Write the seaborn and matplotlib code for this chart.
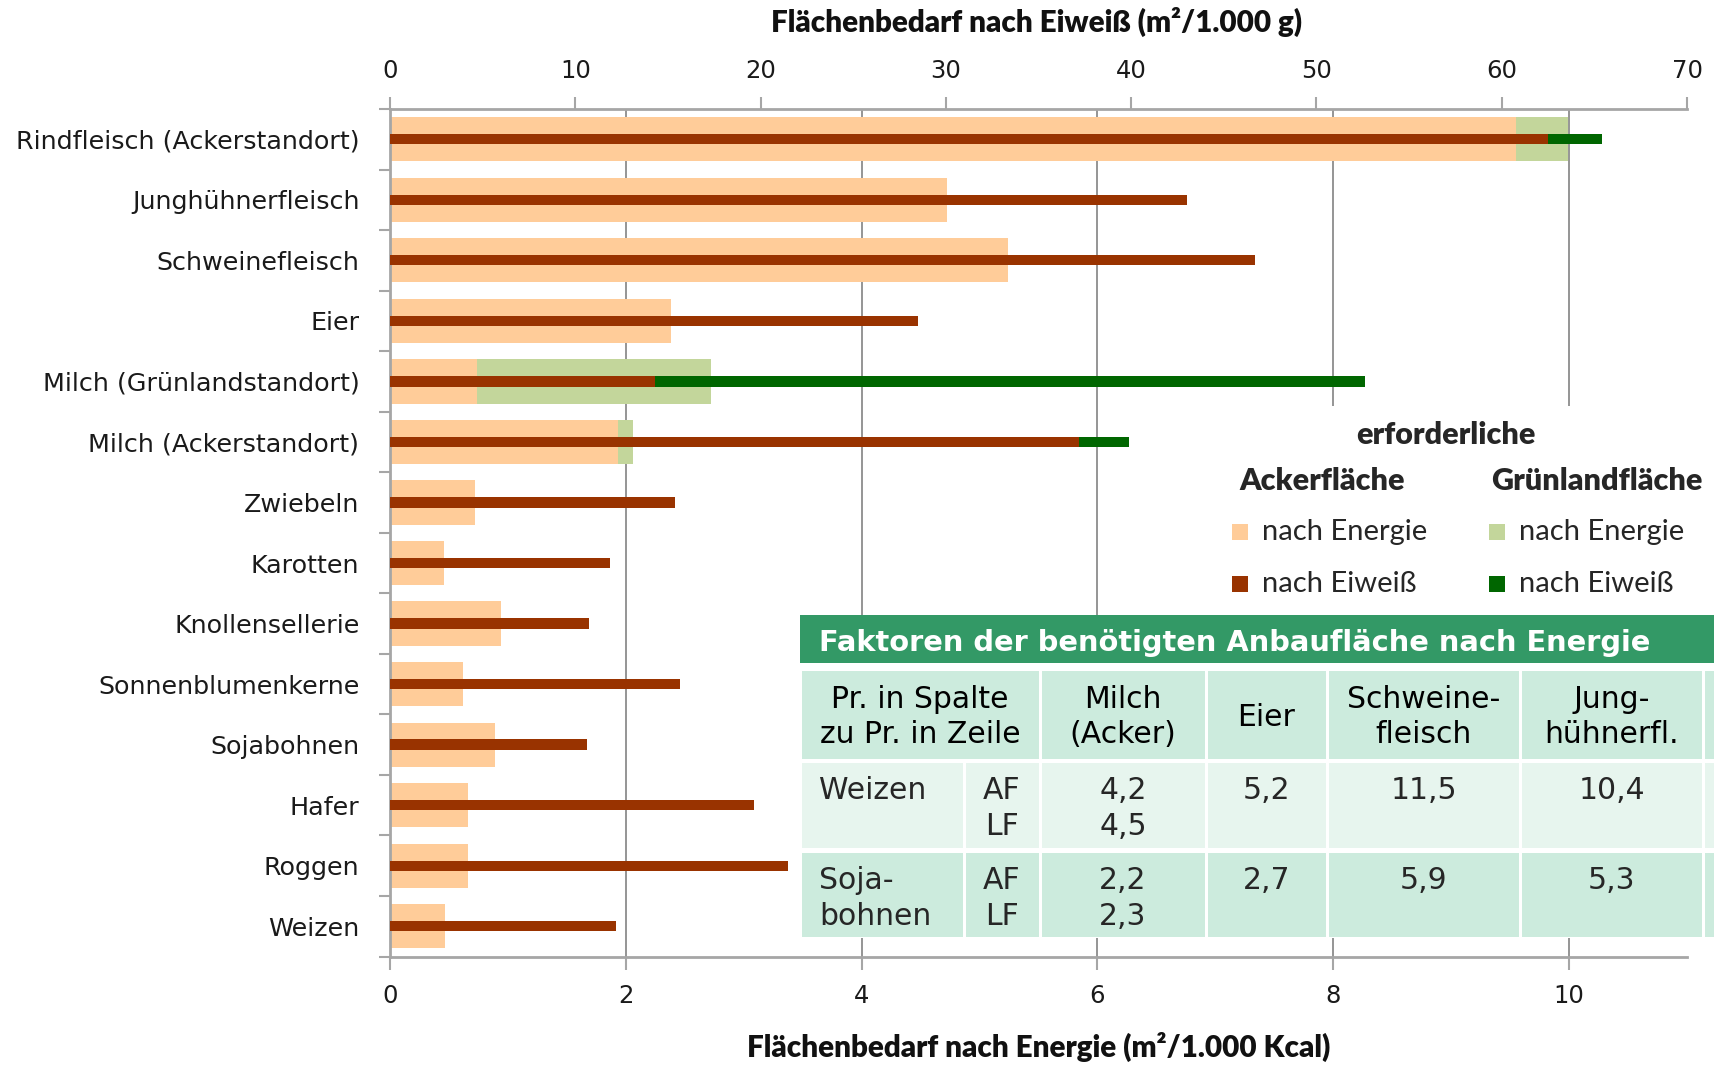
import numpy as np
import pandas as pd
import matplotlib.pyplot as plt
import seaborn as sns
from matplotlib.patches import Rectangle

# --- data ---
produkte = ["Rindfleisch (Ackerstandort)", "Junghühnerfleisch", "Schweinefleisch", "Eier",
            "Milch (Grünlandstandort)", "Milch (Ackerstandort)", "Zwiebeln", "Karotten",
            "Knollensellerie", "Sonnenblumenkerne", "Sojabohnen", "Hafer", "Roggen", "Weizen"]
energie_acker = [9.55, 4.72, 5.24, 2.38, 0.74, 1.93, 0.72, 0.46, 0.94, 0.62, 0.89, 0.66, 0.66, 0.47]
energie_gruen = [0.44, 0, 0, 0, 1.98, 0.13, 0, 0, 0, 0, 0, 0, 0, 0]
eiweiss_acker = [62.5, 43.0, 46.7, 28.5, 14.3, 37.2, 15.4, 11.85, 10.75, 15.65, 10.65, 19.65, 21.5, 12.2]
eiweiss_gruen = [2.9, 0, 0, 0, 38.3, 2.7, 0, 0, 0, 0, 0, 0, 0, 0]

energie_ticks = [0, 2, 4, 6, 8, 10]
eiweiss_ticks = [0, 10, 20, 30, 40, 50, 60, 70]

tab_titel = "Faktoren der benötigten Anbaufläche nach Energie"
tab_kopf = ["Pr. in Spalte\nzu Pr. in Zeile", "Milch\n(Acker)", "Eier", "Schweine-\nfleisch", "Jung-\nhühnerfl."]
tab_zeilen = ["Weizen", "Soja-\nbohnen"]
tab_flaeche = "AF\nLF"
tab_milch = ["4,2\n4,5", "2,2\n2,3"]
tab_eier = ["5,2", "2,7"]
tab_schwein = ["11,5", "5,9"]
tab_huhn = ["10,4", "5,3"]

C_ORANGE = "#FFCC99"
C_RED = "#993300"
C_LGREEN = "#C3D69B"
C_DGREEN = "#006600"
C_GRID = "#8C8C8C"
C_AXIS = "#A6A6A6"

sns.set_theme(style="white")
plt.rcParams['font.family'] = ['DejaVu Sans']

df = pd.DataFrame({
    "produkt": produkte,
    "e_acker": energie_acker,
    "e_gruen": energie_gruen,
    "p_acker": eiweiss_acker,
    "p_gruen": eiweiss_gruen,
})
df["e_total"] = np.where(df.e_gruen > 0, df.e_acker + df.e_gruen, 0)
df["p_total"] = np.where(df.p_gruen > 0, df.p_acker + df.p_gruen, 0)

W, H = 1714, 1067
fig = plt.figure(figsize=(W / 100, H / 100), dpi=100)
ax = fig.add_axes([390 / W, 1 - 956.5 / H, 1297 / W, 847.5 / H])

bar_kw = dict(order=produkte, saturation=1, errorbar=None, linewidth=0, edgecolor="none")

# wide bars: energy
sns.barplot(data=df, x="e_total", y="produkt", color=C_LGREEN, width=0.73, ax=ax, **bar_kw)
sns.barplot(data=df, x="e_acker", y="produkt", color=C_ORANGE, width=0.73, ax=ax, **bar_kw)

# thin bars: protein on top axis
ax2 = ax.twiny()
sns.barplot(data=df, x="p_total", y="produkt", color=C_DGREEN, width=0.17, ax=ax2, **bar_kw)
sns.barplot(data=df, x="p_acker", y="produkt", color=C_RED, width=0.17, ax=ax2, **bar_kw)

ax.set_xlim(0, 11)
ax2.set_xlim(0, 70)
ax.set_ylim(len(produkte) - 0.5, -0.5)
for a in (ax, ax2):
    a.set_xlabel("")
    a.set_ylabel("")

ax.set_xticks(energie_ticks)
ax.set_xticklabels([str(t) for t in energie_ticks])
ax2.set_xticks(eiweiss_ticks)
ax2.set_xticklabels([str(t) for t in eiweiss_ticks])
ax.set_yticks(range(len(produkte)))
ax.set_yticklabels(produkte)
ax.set_yticks(np.arange(-0.5, len(produkte), 1), minor=True)

ax.grid(axis="x", color=C_GRID, lw=1.3)
ax.grid(axis="y", visible=False)
ax.set_axisbelow(True)

for s in ("top", "right"):
    ax.spines[s].set_visible(False)
for s in ("left", "bottom"):
    ax.spines[s].set_color(C_AXIS)
    ax.spines[s].set_linewidth(2)
for s in ("bottom", "left", "right"):
    ax2.spines[s].set_visible(False)
ax2.spines["top"].set_color(C_AXIS)
ax2.spines["top"].set_linewidth(2)

ax.tick_params(axis="y", which="major", length=0, pad=22, labelsize=18.3, labelcolor="#1a1a1a")
ax.tick_params(axis="y", which="minor", length=8, width=1.5, color=C_AXIS, direction="out", left=True)
ax.tick_params(axis="x", length=9, width=1.5, color=C_AXIS, direction="out", bottom=True,
               pad=11, labelsize=17.5, labelcolor="#1a1a1a")
ax2.tick_params(axis="x", length=9, width=1.5, color=C_AXIS, direction="out", top=True,
                pad=10, labelsize=17.5, labelcolor="#1a1a1a")

fig.text(1037 / W, 1 - 22 / H, "Flächenbedarf nach Eiweiß (m²/1.000 g)", ha="center", va="center",
         family="Lato", fontweight="heavy", fontsize=21.3, color="#111111")
fig.text(1038.5 / W, 1 - 1047 / H, "Flächenbedarf nach Energie (m²/1.000 Kcal)", ha="center", va="center",
         family="Lato", fontweight="heavy", fontsize=21.3, color="#111111")


def rect(x0, y0, x1, y1, color, z=5):
    fig.add_artist(Rectangle((x0 / W, 1 - y1 / H), (x1 - x0) / W, (y1 - y0) / H,
                             transform=fig.transFigure, facecolor=color, edgecolor="none", zorder=z))


def txt(x, y, s, **kw):
    fig.text(x / W, 1 - y / H, s, zorder=7, **kw)


# --- legend ---
rect(1200, 406, W, 615, "white", z=4)
txt(1446, 435, "erforderliche", ha="center", va="center", family="Lato", fontweight="heavy", fontsize=22)
txt(1322, 481, "Ackerfläche", ha="center", va="center", family="Lato", fontweight="heavy", fontsize=22)
txt(1597, 481, "Grünlandfläche", ha="center", va="center", family="Lato", fontweight="heavy", fontsize=22)
leg = [(1232, 532, C_ORANGE, "nach Energie"), (1232, 584, C_RED, "nach Eiweiß"),
       (1489, 532, C_LGREEN, "nach Energie"), (1489, 584, C_DGREEN, "nach Eiweiß")]
for lx, ly, lc, lt in leg:
    rect(lx, ly - 8, lx + 16, ly + 8, lc, z=6)
    txt(lx + 30, ly, lt, ha="left", va="center", family="Lato", fontsize=21, color="#262626")

# --- table ---
C_T1 = "#339966"
C_T2 = "#CCEBDD"
C_T3 = "#E7F5EE"
rect(800, 615, W, 938, "white", z=4)
rect(800, 615, W, 663, C_T1)
txt(819, 643, tab_titel, ha="left", va="center", fontweight="bold", fontsize=20.8, color="white")

cols = [800, 964, 1040, 1206, 1327, 1520, 1703, W + 3]
rows = [(671, 759), (762, 849), (852, 938)]
g = 1.5
FS = 21.5
LS = 1.3
# header row
head_cells = [(cols[0], cols[2])] + [(cols[i], cols[i + 1]) for i in range(2, 7)]
for (x0, x1) in head_cells:
    rect(x0 + g, rows[0][0], x1 - g, rows[0][1], C_T2)
for (x0, x1), t in zip(head_cells, tab_kopf):
    txt((x0 + x1) / 2, (rows[0][0] + rows[0][1]) / 2 + 2, t, ha="center", va="center",
        fontsize=FS, linespacing=LS, color="black")

# body rows
for r, (y0, y1) in enumerate(rows[1:]):
    colr = C_T3 if r == 0 else C_T2
    for i in range(7):
        rect(cols[i] + g, y0 + 1, cols[i + 1] - g, y1 - 1, colr)
    ty = y0 + 14
    txt(819, ty, tab_zeilen[r], ha="left", va="top", fontsize=FS, linespacing=LS)
    txt((cols[1] + cols[2]) / 2, ty, tab_flaeche, ha="center", va="top", fontsize=FS, linespacing=LS)
    for i, vals in zip(range(2, 6), (tab_milch, tab_eier, tab_schwein, tab_huhn)):
        txt((cols[i] + cols[i + 1]) / 2, ty, vals[r], ha="center", va="top", fontsize=FS, linespacing=LS)

fig.savefig("out.png", dpi=100)
